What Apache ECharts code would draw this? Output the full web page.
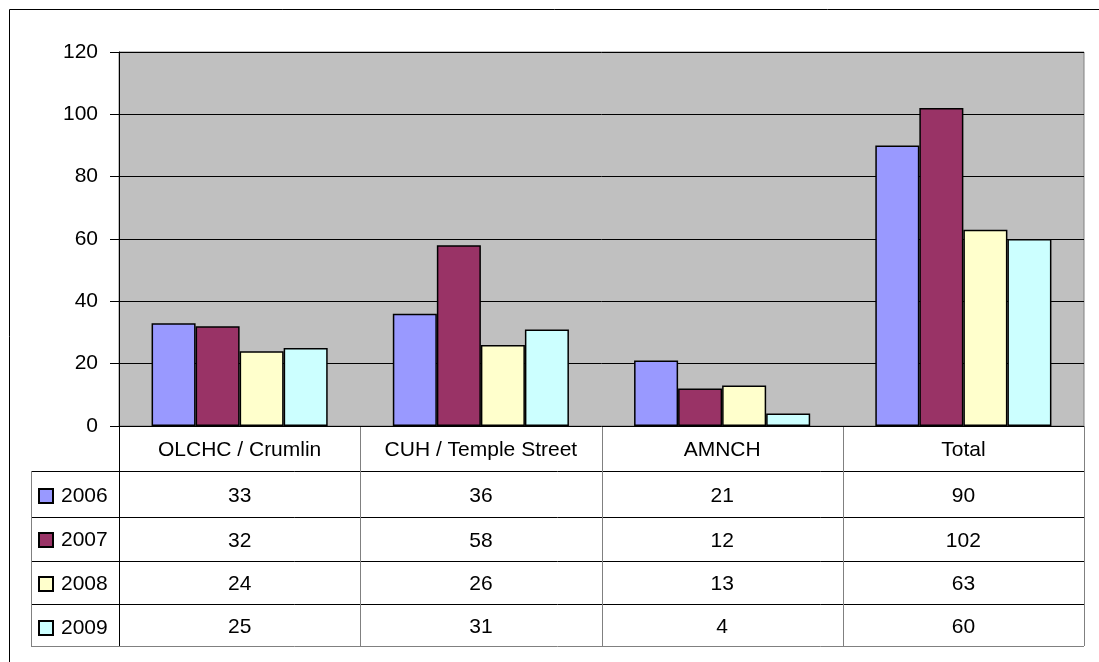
<!DOCTYPE html>
<html>
<head>
<meta charset="utf-8">
<script src="https://cdn.jsdelivr.net/npm/echarts@6/dist/echarts.min.js"></script>
<style>
html,body{margin:0;padding:0;background:#fff;}
#chart{width:1099px;height:662px;}
</style>
</head>
<body>
<div id="chart"></div>
<script>
// ---- data ----
const categories = ['OLCHC / Crumlin', 'CUH / Temple Street', 'AMNCH', 'Total'];
const seriesNames = ['2006', '2007', '2008', '2009'];
const v2006 = [33, 36, 21, 90];
const v2007 = [32, 58, 12, 102];
const v2008 = [24, 26, 13, 63];
const v2009 = [25, 31, 4, 60];
const yTicks = { min: 0, max: 120, interval: 20 };

// ---- style / layout ----
const values = [v2006, v2007, v2008, v2009];
const colors = ['#9999FF', '#993366', '#FFFFCC', '#CCFFFF'];
const FONT = '"Liberation Sans", Arial, sans-serif';
const FS = 21;
const gridL = 119, gridR = 1084, gridT = 52, gridB = 426;
const headerH = 45;
const rowH = [46, 44, 43, 42];
const rowTop = [];
{ let y = gridB + headerH; for (const h of rowH) { rowTop.push(y); y += h; } rowTop.push(y); }
const legendL = 31;
const catW = (gridR - gridL) / categories.length;

const chart = echarts.init(document.getElementById('chart'), null, { renderer: 'canvas' });

const xAxes = [{
  type: 'category', data: categories, gridIndex: 0, position: 'bottom',
  axisLine: { show: false }, axisTick: { show: false },
  axisLabel: { interval: 0, margin: 14, fontSize: FS, fontFamily: FONT, color: '#000' }
}];
values.forEach((vals, k) => {
  xAxes.push({
    type: 'category', data: vals.map(String), gridIndex: 0, position: 'bottom',
    offset: rowTop[k] - gridB,
    axisLine: { show: false }, axisTick: { show: false }, splitLine: { show: false },
    axisLabel: { interval: 0, margin: Math.round((rowH[k] - FS) / 2) + 2, fontSize: FS, fontFamily: FONT, color: '#000' }
  });
});

const graphics = [];
graphics.push({ type: 'rect', shape: { x: 9.5, y: 9.5, width: 1200, height: 1000 }, style: { fill: 'none', stroke: '#000', lineWidth: 1 }, silent: true });
const tableBottom = rowTop[rowTop.length - 1];
rowTop.forEach((y, i) => {
  graphics.push({ type: 'line', shape: { x1: legendL, y1: y + 0.5, x2: gridR, y2: y + 0.5 },
    style: { stroke: i === rowTop.length - 1 ? '#808080' : '#000', lineWidth: 1 }, silent: true });
});
graphics.push({ type: 'line', shape: { x1: legendL + 0.5, y1: rowTop[0], x2: legendL + 0.5, y2: tableBottom }, style: { stroke: '#808080', lineWidth: 1 }, silent: true });
for (let k = 0; k <= categories.length; k++) {
  const x = Math.round(gridL + k * catW) + 0.5;
  graphics.push({ type: 'line', shape: { x1: x, y1: gridB, x2: x, y2: tableBottom },
    style: { stroke: k === 0 ? '#000' : '#808080', lineWidth: 1 }, silent: true });
}

const option = {
  animation: false,
  backgroundColor: '#fff',
  textStyle: { fontFamily: FONT },
  grid: { left: gridL, top: gridT, right: 1099 - gridR, bottom: 662 - gridB,
    show: true, backgroundColor: '#C0C0C0', borderColor: '#808080', borderWidth: 1 },
  legend: {
    data: seriesNames, orient: 'vertical', left: 33, top: rowTop[0] + rowH[0] / 2 - 10.5 - 3,
    itemGap: 44 - 21, itemWidth: 14, itemHeight: 14, icon: 'rect',
    textStyle: { fontSize: FS, fontFamily: FONT, color: '#000', lineHeight: 21, padding: [0, 0, 0, 3] },
    selectedMode: false
  },
  xAxis: xAxes,
  yAxis: {
    type: 'value', min: yTicks.min, max: yTicks.max, interval: yTicks.interval,
    axisLine: { show: true, lineStyle: { color: '#000', width: 1 } },
    axisTick: { show: true, length: 9, lineStyle: { color: '#000' } },
    axisLabel: { fontSize: FS, fontFamily: FONT, color: '#000', margin: 21 },
    splitLine: { show: true, lineStyle: { color: '#000', width: 1 } }
  },
  series: seriesNames.map((name, i) => ({
    name, type: 'bar', xAxisIndex: 0, data: values[i],
    barGap: '0%', barCategoryGap: '27%',
    itemStyle: { color: colors[i], borderColor: '#000', borderWidth: 1.5 }
  })),
  graphic: graphics
};
chart.setOption(option);
</script>
</body>
</html>
